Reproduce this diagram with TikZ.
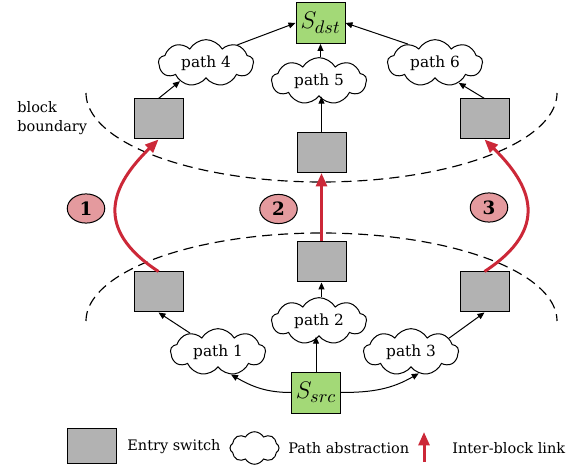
\documentclass[tikz,border=0pt]{standalone}
\usepackage{fontspec}
\setmainfont{DejaVu Serif}
\usetikzlibrary{shapes.symbols,shapes.geometric,arrows.meta}
\definecolor{sgreen}{RGB}{163,217,119}
\definecolor{sgray}{RGB}{178,178,178}
\definecolor{spink}{RGB}{228,154,158}
\definecolor{sred}{RGB}{204,40,56}
\begin{document}
\begin{tikzpicture}[x=0.6pt,y=-0.6pt, font=\fontsize{8.7pt}{11.4pt}\selectfont,
 switch/.style={draw, line width=0.6pt, fill=sgray, minimum width=29.4pt, minimum height=24pt, inner sep=0pt},
 host/.style={draw, line width=0.6pt, fill=sgreen, minimum width=29.4pt, minimum height=24.6pt, inner sep=0pt, font=\fontsize{15.5pt}{16pt}\selectfont},
 pathcloud/.style={cloud, draw, line width=0.6pt, cloud puffs=9, cloud puff arc=120, aspect=2.3, minimum width=57pt, minimum height=28pt, inner sep=0pt, font=\fontsize{9.2pt}{11pt}\selectfont},
 num/.style={ellipse, draw, line width=0.6pt, fill=spink, minimum width=22.5pt, minimum height=17.5pt, inner sep=0pt, font=\fontsize{11pt}{12pt}\selectfont\bfseries},
 arr/.style={-{Triangle[length=4.2pt,width=3.6pt]}, line width=0.6pt},
 link/.style={-{Triangle[length=8pt,width=6.5pt]}, line width=1.8pt, draw=sred},
 boundary/.style={dash pattern=on 6pt off 3.6pt, line width=0.7pt}]
\useasboundingbox (0,0) rectangle (580,472);

% boundaries
\draw[boundary] plot[domain=180:360,samples=90,smooth] ({321.5+235.5*cos(\x)},{93-89*sin(\x)});
\draw[boundary] plot[domain=180:360,samples=90,smooth] ({321.5+235.5*cos(\x)},{321+88*sin(\x)});

% hosts and switches
\node[host] (dst) at (320.5,23) {$S_{dst}$};
\node[host] (src) at (316,392.5) {$S_{src}$};
\node[switch] (tl) at (158.5,119) {};
\node[switch] (tm) at (321.5,152.5) {};
\node[switch] (tr) at (484.5,119) {};
\node[switch] (bl) at (158.5,292) {};
\node[switch] (bm) at (321.5,262) {};
\node[switch] (br) at (484.5,292) {};

% clouds
\node[pathcloud] (p4) at (206,63) {path 4};
\node[pathcloud] (p5) at (319,81) {path 5};
\node[pathcloud] (p6) at (435,63) {path 6};
\node[pathcloud] (p1) at (218,352) {path 1};
\node[pathcloud] (p2) at (319,321) {path 2};
\node[pathcloud] (p3) at (411,352) {path 3};

% label
\node[align=left, anchor=west, inner sep=0pt] (bb) at (17,118.5) {block\\boundary};

% inter-block links
\draw[link] (bl.north) .. controls (92,228) and (112,185) .. (tl.south);
\draw[link] (bm.north) -- (tm.south);
\draw[link] (br.north) .. controls (551,228) and (531,185) .. (tr.south);

\node[num] (n1) at (86,208.5) {1};
\node[num] (n2) at (278.5,209) {2};
\node[num] (n3) at (489,207.5) {3};

% black arrows
\draw[arr] (p4.30) -- (dst.west);
\draw[arr] (p5.north -| dst.south) -- (dst.south);
\draw[arr] (p6.145) -- (dst.east);
\draw[arr] (tl.north) -- (p4.215);
\draw[arr] (tm.north) -- (tm.north |- p5.south);
\draw[arr] (tr.north) -- (p6.-40);
\draw[arr] (p1.146) -- (bl.south);
\draw[arr] (p2.north -| bm.south) -- (bm.south);
\draw[arr] (p3.20) -- (br.south);
\draw[arr] (src.north) -- (src.north |- p2.south);
\draw[arr] (src.west) to[out=180,in=-30] (p1.-60);
\draw[arr] (src.east) to[out=0,in=-150] (p3.-70);

% legend
\node[switch, minimum height=21pt] (lsw) at (91.5,446) {};
\node[anchor=west, inner sep=0pt] (lswt) at (127,447) {Entry switch};
\node[cloud, draw, line width=0.6pt, cloud puffs=8, cloud puff arc=120, aspect=1.5, minimum width=29.4pt, minimum height=19.5pt, inner sep=0pt] (lcl) at (254.5,448) {};
\node[anchor=west, inner sep=0pt] (lclt) at (288,448) {Path abstraction};
\coordinate (la0) at (424,462);
\coordinate (la1) at (424,432);
\draw[link] (la0) -- (la1);
\node[anchor=west, inner sep=0pt] (llt) at (452,448) {Inter-block link};
\end{tikzpicture}
\end{document}
